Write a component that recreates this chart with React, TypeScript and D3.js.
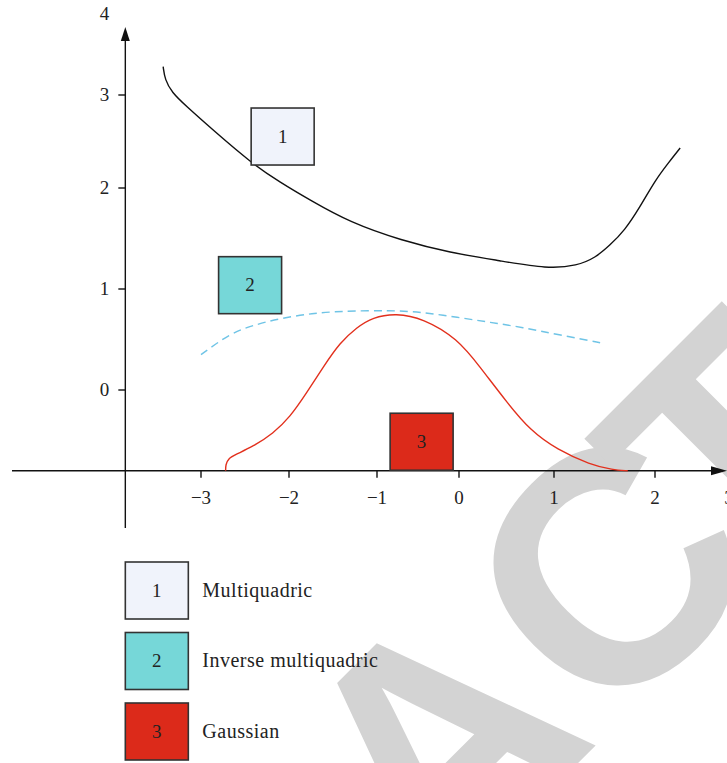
import * as d3 from 'd3';

const W = 727;
const H = 763;

// axis ticks
const xTicks = [-3, -2, -1, 0, 1, 2, 3];
const yTicks = [0, 1, 2, 3];
const yTopLabel = 4;
const xAxisAt = -0.8; // y value where the horizontal axis sits
const yAxisAt = -3.86; // x value where the vertical axis sits

// series
const mqX = [-3.43, -3.41, -3.33, -3.18, -2.86, -2.43, -2.1, -1.76, -1.31, -0.7, -0.11, 0.43, 0.93, 1.23, 1.41, 1.55, 1.7, 1.85, 2.0, 2.18, 2.34];
const mqY = [3.35, 3.19, 3.03, 2.89, 2.62, 2.27, 2.06, 1.88, 1.66, 1.48, 1.36, 1.28, 1.2, 1.23, 1.31, 1.43, 1.58, 1.81, 2.08, 2.27, 2.43];

const imqX = [-3.0, -2.67, -2.41, -2.1, -1.73, -1.42, -0.84, -0.44, -0.02, 0.33, 0.67, 1.03, 1.5];
const imqY = [0.35, 0.56, 0.64, 0.71, 0.76, 0.78, 0.79, 0.77, 0.72, 0.67, 0.62, 0.55, 0.46];

const gaX = [-2.72, -2.72, -2.69, -2.61, -2.41, -2.18, -1.99, -1.8, -1.61, -1.42, -1.23, -1.05, -0.77, -0.44, -0.02, 0.22, 0.51, 0.75, 1.03, 1.36, 1.58, 1.73];
const gaY = [-0.8, -0.74, -0.68, -0.64, -0.56, -0.43, -0.27, -0.03, 0.23, 0.47, 0.62, 0.72, 0.76, 0.71, 0.51, 0.23, -0.13, -0.4, -0.59, -0.74, -0.79, -0.8];

// numbered boxes inside the plot (top-left corner in data units)
const boxLabels = ['1', '2', '3'];
const boxX = [-2.43, -2.8, -0.84];
const boxY = [2.86, 1.32, -0.23];
const boxFill = ['#f0f3fb', '#76d7d8', '#dc2a1a'];

const legendNames = ['Multiquadric', 'Inverse multiquadric', 'Gaussian'];

// watermark letters (screen centres)
const wmLetters = ['A', 'C', 'T'];
const wmCx = [434, 606, 730];
const wmCy = [740, 568, 447];

const serif = '"Liberation Serif", "Times New Roman", serif';

export default function App() {
  const x = d3.scaleLinear().domain(xTicks).range([201, 289, 377, 459, 554, 655, 729]);
  const y = d3.scaleLinear().domain([0, 1, 2, 3, 4]).range([390, 289, 188, 95, 14]);

  const line = d3
    .line<[number, number]>()
    .x((d) => x(d[0]))
    .y((d) => y(d[1]))
    .curve(d3.curveBasis);

  const mq = line(mqX.map((v, i) => [v, mqY[i]]));
  const imq = line(imqX.map((v, i) => [v, imqY[i]]));
  const ga = line(gaX.map((v, i) => [v, gaY[i]]));

  const axisY = y(xAxisAt);
  const axisX = x(yAxisAt);
  const bw = 63;
  const bh = 57;
  const wmSize = 330;

  return (
    <svg
      width={W}
      height={H}
      style={{ position: 'absolute', left: 0, top: 0, background: '#fff' }}
    >
      {/* watermark */}
      <g fill="#d3d3d3" fontFamily='"Liberation Sans", Arial, sans-serif' fontWeight="bold" fontSize={wmSize}>
        {wmLetters.map((l, i) => (
          <g key={l} transform={`translate(${wmCx[i]},${wmCy[i]}) rotate(-45)`}>
            <text x={0} y={wmSize * 0.358} textAnchor="middle">
              {l}
            </text>
          </g>
        ))}
      </g>

      {/* axes */}
      <g stroke="#111" strokeWidth={1.4} fill="none">
        <line x1={12} x2={714} y1={axisY} y2={axisY} />
        <line x1={axisX} x2={axisX} y1={38} y2={528} />
        {xTicks.map((t) => (
          <line key={t} x1={x(t)} x2={x(t)} y1={axisY} y2={axisY + 7} />
        ))}
        {yTicks.map((t) => (
          <line key={t} x1={axisX - 7} x2={axisX} y1={y(t)} y2={y(t)} />
        ))}
      </g>
      <path d={`M${axisX},27 L${axisX - 4.5},41 L${axisX + 4.5},41 Z`} fill="#111" />
      <path d={`M727,${axisY} L711,${axisY - 4.5} L711,${axisY + 4.5} Z`} fill="#111" />

      <g fontFamily={serif} fontSize={19} fill="#222">
        {xTicks.map((t) => (
          <text key={t} x={x(t)} y={axisY + 33} textAnchor="middle">
            {t < 0 ? `\u2212${Math.abs(t)}` : t}
          </text>
        ))}
        {[...yTicks, yTopLabel].map((t) => (
          <text key={t} x={axisX - 16} y={y(t) + 6} textAnchor="end">
            {t}
          </text>
        ))}
      </g>

      {/* curves */}
      <path d={mq ?? ''} fill="none" stroke="#111" strokeWidth={1.4} />
      <path d={imq ?? ''} fill="none" stroke="#6fc4e6" strokeWidth={1.4} strokeDasharray="8,5" />
      <path d={ga ?? ''} fill="none" stroke="#e2301d" strokeWidth={1.4} />

      {/* numbered boxes */}
      {boxLabels.map((b, i) => (
        <g key={b} transform={`translate(${x(boxX[i])},${y(boxY[i])})`}>
          <rect width={bw} height={bh} fill={boxFill[i]} stroke="#333" strokeWidth={1.6} />
          <text x={bw / 2} y={bh / 2 + 6} textAnchor="middle" fontFamily={serif} fontSize={19} fill="#222">
            {b}
          </text>
        </g>
      ))}

      {/* legend */}
      {legendNames.map((n, i) => (
        <g key={n} transform={`translate(${axisX},${562 + i * 70.5})`}>
          <rect width={bw} height={bh} fill={boxFill[i]} stroke="#333" strokeWidth={1.6} />
          <text x={bw / 2} y={bh / 2 + 6} textAnchor="middle" fontFamily={serif} fontSize={19} fill="#222">
            {boxLabels[i]}
          </text>
          <text x={77} y={bh / 2 + 6} fontFamily={serif} fontSize={20} letterSpacing={0.5} fill="#222">
            {n}
          </text>
        </g>
      ))}
    </svg>
  );
}
